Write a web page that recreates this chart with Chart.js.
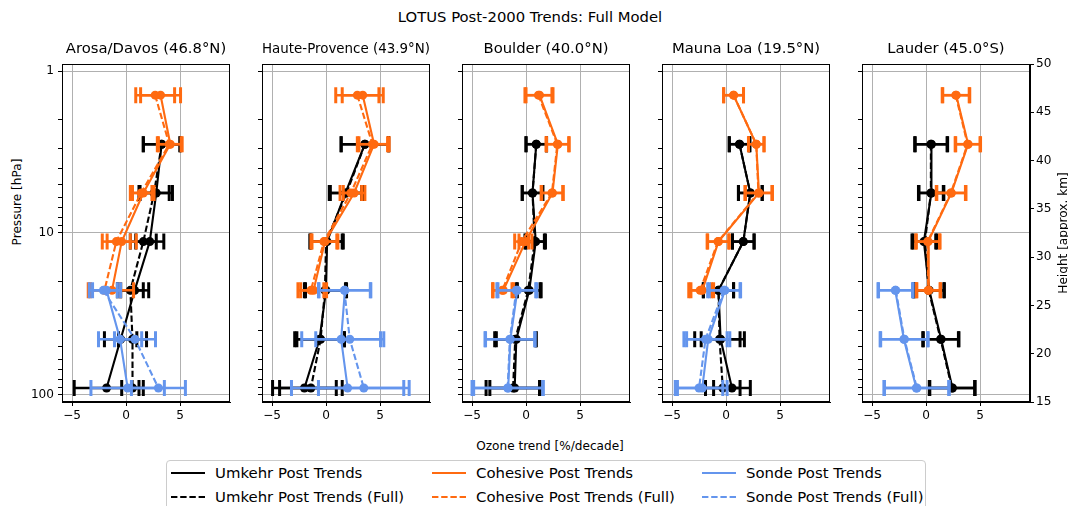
<!DOCTYPE html>
<html>
<head>
<meta charset="utf-8">
<script src="https://cdn.jsdelivr.net/npm/chart.js@4.4.0/dist/chart.umd.min.js"></script>
<style>
  body { margin: 0; background: #fff; width: 1068px; height: 506px; overflow: hidden; position: relative; font-family: 'DejaVu Sans', sans-serif; color: #000; }
  canvas { position: absolute; left: 0; top: 0; }
  .lbl { position: absolute; white-space: nowrap; line-height: 1; transform: translate(-50%, -50%); }
  #legend { position: absolute; left: 166px; top: 460px; width: 758px; height: 60px; border: 1px solid #cccccc; border-radius: 4px; background: #fff; }
  #legend .item { position: absolute; display: flex; align-items: center; font-size: 14.9px; white-space: nowrap; }
  #legend svg { margin-right: 10px; }
</style>
</head>
<body>
<div class="lbl" style="left:530px; top:17px; font-size:14.8px;">LOTUS Post-2000 Trends: Full Model</div>
<div class="lbl" style="left:550px; top:446px; font-size:12.1px;">Ozone trend [%/decade]</div>
<div class="lbl" style="left:17px; top:202px; font-size:12.1px; transform: translate(-50%, -50%) rotate(-90deg);">Pressure [hPa]</div>
<div id="legend"></div>

<script>
const stations = ['Arosa/Davos (46.8°N)', 'Haute-Provence (43.9°N)', 'Boulder (40.0°N)', 'Mauna Loa (19.5°N)', 'Lauder (45.0°S)'];
const pressure = [1.41, 2.83, 5.66, 11.3, 22.6, 45.3, 90.5];
const xTicks = [-5, 0, 5];
const pMajor = [1, 10, 100];
const pMinor = [2, 3, 4, 5, 6, 7, 8, 9, 20, 30, 40, 50, 60, 70, 80, 90];
const heightTicks = [15, 20, 25, 30, 35, 40, 45, 50];

// trends [%/decade], one row per station, one column per pressure level
const umkehr = [
  [null, 3.3, 2.8, 2.2, 0.8, -0.5, -1.8],
  [null, 3.6, 1.8, 0.1, 0.0, -0.6, -2.0],
  [null, 0.95, 0.6, 0.9, 0.3, -0.9, -1.05],
  [null, 1.25, 2.25, 1.6, -0.7, -0.5, 0.55],
  [null, 0.5, 0.5, -0.2, 0.3, 1.4, 2.45],
];
const umkehrErr = [
  [null, 1.7, 1.5, 1.3, 1.3, 1.5, 3.0],
  [null, 2.2, 1.5, 1.5, 1.9, 2.3, 2.95],
  [null, 0.95, 0.95, 0.9, 1.1, 1.85, 2.3],
  [null, 0.95, 1.1, 1.0, 1.4, 1.8, 1.7],
  [null, 1.5, 1.15, 1.1, 1.4, 1.65, 2.1],
];
const umkehrFull = [
  [null, 3.3, 2.6, 1.6, 0.4, 0.6, 0.6],
  [null, 3.6, 1.9, 0.0, -0.1, -0.5, -1.4],
  [null, 0.95, 0.6, 0.8, 0.2, -1.0, -1.2],
  [null, 1.25, 2.25, 1.6, -0.7, -0.6, -0.3],
  [null, 0.45, 0.45, -0.1, 0.25, 1.35, 2.4],
];
const umkehrFullErr = [
  [null, 1.7, 1.4, 1.2, 1.2, 1.3, 1.0],
  [null, 2.2, 1.5, 1.5, 1.9, 2.2, 2.9],
  [null, 0.95, 0.95, 0.9, 1.1, 1.9, 2.5],
  [null, 0.95, 1.1, 1.0, 1.4, 2.3, 1.6],
  [null, 1.5, 1.15, 1.1, 1.4, 1.65, 2.1],
];
const cohesive = [
  [3.2, 4.1, 1.6, -0.4, -1.3, null, null],
  [3.4, 4.45, 2.6, -0.1, -1.15, null, null],
  [1.25, 2.95, 2.45, -0.05, -2.1, null, null],
  [0.7, 2.8, 3.05, -0.7, -2.2, null, null],
  [2.8, 3.9, 2.35, 0.2, 0.25, null, null],
];
const cohesiveErr = [
  [1.85, 1.1, 1.0, 1.35, 2.0, null, null],
  [1.9, 1.4, 1.0, 1.2, 1.2, null, null],
  [1.25, 1.05, 1.0, 0.6, 0.95, null, null],
  [0.92, 0.72, 1.25, 1.0, 1.05, null, null],
  [1.25, 1.15, 1.35, 1.1, 1.1, null, null],
];
const cohesiveFull = [
  [2.7, 4.0, 1.4, -0.9, -2.0, null, null],
  [2.9, 4.3, 2.3, -0.2, -1.4, null, null],
  [1.15, 2.9, 2.4, -0.4, -2.2, null, null],
  [0.7, 2.8, 3.0, -0.75, -2.4, null, null],
  [2.75, 3.85, 2.3, 0.15, 0.2, null, null],
];
const cohesiveFullErr = [
  [1.8, 1.1, 1.0, 1.3, 1.5, null, null],
  [2.0, 1.4, 1.0, 1.2, 1.2, null, null],
  [1.25, 1.05, 1.0, 0.65, 0.9, null, null],
  [0.92, 0.72, 1.25, 1.0, 1.05, null, null],
  [1.25, 1.15, 1.35, 1.1, 1.1, null, null],
];
const sonde = [
  [null, null, null, null, -1.8, -0.55, 0.15],
  [null, null, null, null, 1.75, 1.4, 2.0],
  [null, null, null, null, -0.8, -1.45, -1.65],
  [null, null, null, null, -0.1, -1.65, -2.2],
  [null, null, null, null, -2.85, -2.05, -0.9],
];
const sondeErr = [
  [null, null, null, null, 1.3, 2.0, 3.4],
  [null, null, null, null, 2.4, 3.65, 5.2],
  [null, null, null, null, 1.8, 2.3, 3.2],
  [null, null, null, null, 1.45, 2.0, 2.3],
  [null, null, null, null, 1.6, 2.2, 3.0],
];
const sondeFull = [
  [null, null, null, null, -2.1, 0.83, 3.0],
  [null, null, null, null, 1.7, 2.2, 3.5],
  [null, null, null, null, -0.9, -1.5, -1.7],
  [null, null, null, null, -0.2, -1.9, -2.5],
  [null, null, null, null, -2.8, -2.0, -0.85],
];
const sondeFullErr = [
  [null, null, null, null, 1.3, 1.9, 2.5],
  [null, null, null, null, 2.4, 3.15, 4.2],
  [null, null, null, null, 1.8, 2.3, 3.3],
  [null, null, null, null, 1.5, 2.0, 2.2],
  [null, null, null, null, 1.6, 2.2, 3.0],
];

const BLACK = '#000000';
const ORANGE = '#ff6a10';
const BLUE = '#6495ed';
const DASH = [6.4, 2.8];

const series = [
  { name: 'Umkehr Post Trends', vals: umkehr, err: umkehrErr, color: BLACK, dash: [] },
  { name: 'Umkehr Post Trends (Full)', vals: umkehrFull, err: umkehrFullErr, color: BLACK, dash: DASH },
  { name: 'Cohesive Post Trends', vals: cohesive, err: cohesiveErr, color: ORANGE, dash: [] },
  { name: 'Cohesive Post Trends (Full)', vals: cohesiveFull, err: cohesiveFullErr, color: ORANGE, dash: DASH },
  { name: 'Sonde Post Trends', vals: sonde, err: sondeErr, color: BLUE, dash: [] },
  { name: 'Sonde Post Trends (Full)', vals: sondeFull, err: sondeFullErr, color: BLUE, dash: DASH },
];

Chart.defaults.font.family = "'DejaVu Sans', sans-serif";
Chart.defaults.color = '#000';

const TICK_FONT = 12.1;
const TITLE_FONT = 14.8;
const minus = (v) => String(v).replace('-', '\u2212');

// horizontal error bars with caps, drawn under each dataset's line
const errorBars = {
  id: 'errorBars',
  beforeDatasetDraw(chart, args) {
    const ds = chart.data.datasets[args.index];
    if (!ds.xErr) return;
    const xs = chart.scales.x;
    const ctx = chart.ctx;
    ctx.save();
    ctx.strokeStyle = ds.borderColor;
    args.meta.data.forEach((pt, j) => {
      const d = ds.data[j];
      const x0 = xs.getPixelForValue(d.x - ds.xErr[j]);
      const x1 = xs.getPixelForValue(d.x + ds.xErr[j]);
      ctx.lineWidth = 2.5;
      ctx.beginPath();
      ctx.moveTo(x0, pt.y);
      ctx.lineTo(x1, pt.y);
      ctx.stroke();
      ctx.lineWidth = 3;
      ctx.beginPath();
      ctx.moveTo(x0, pt.y - 8);
      ctx.lineTo(x0, pt.y + 8);
      ctx.moveTo(x1, pt.y - 8);
      ctx.lineTo(x1, pt.y + 8);
      ctx.stroke();
    });
    ctx.restore();
  },
};

// box round the plot area, plus the rotated label of the height axis
const frame = {
  id: 'frame',
  afterDraw(chart) {
    const { left, top, right, bottom } = chart.chartArea;
    const ctx = chart.ctx;
    ctx.save();
    ctx.strokeStyle = '#000';
    ctx.lineWidth = 1;
    ctx.strokeRect(Math.round(left) + 0.5, Math.round(top) + 0.5, Math.round(right - left) - 1, Math.round(bottom - top) - 1);
    if (chart.options.plugins.frame.heightLabel) {
      ctx.translate(1064, (top + bottom) / 2);
      ctx.rotate(-Math.PI / 2);
      ctx.fillStyle = '#000';
      ctx.font = TICK_FONT + "px 'DejaVu Sans'";
      ctx.textAlign = 'center';
      ctx.textBaseline = 'middle';
      ctx.fillText('Height [approx. km]', 0, 0);
    }
    ctx.restore();
  },
};

const W = 1068, H = 506;
const plotTop = 64, plotBottom = 402, plotW = 168;

stations.forEach((station, i) => {
  const canvas = document.createElement('canvas');
  canvas.width = W;
  canvas.height = H;
  document.body.appendChild(canvas);

  const plotLeft = 62 + 200 * i;
  const yw = i === 0 ? 57 : 20;
  const last = i === stations.length - 1;

  const datasets = series.map((s, k) => {
    const data = [];
    const xErr = [];
    pressure.forEach((p, lev) => {
      if (s.vals[i][lev] === null) return;
      data.push({ x: s.vals[i][lev], y: p });
      xErr.push(s.err[i][lev]);
    });
    return {
      label: s.name,
      data,
      xErr,
      borderColor: s.color,
      backgroundColor: s.color,
      borderWidth: 2.1,
      borderDash: s.dash,
      pointRadius: 4.5,
      pointBorderWidth: 0,
      pointBackgroundColor: s.color,
      tension: 0,
      order: series.length - k,
      yAxisID: 'y',
    };
  });

  const scales = {
    x: {
      type: 'linear',
      min: -5.93,
      max: 9.63,
      afterBuildTicks: (s) => { s.ticks = xTicks.map((v) => ({ value: v })); },
      afterFit: (s) => { s.height = 30; },
      ticks: { callback: (v) => minus(v), padding: 3, font: { size: TICK_FONT }, maxRotation: 0, autoSkip: false },
      grid: { color: '#b0b0b0', lineWidth: 1, tickColor: '#000', tickLength: 4 },
      border: { color: '#000', width: 1 },
    },
    y: {
      type: 'logarithmic',
      position: 'left',
      reverse: true,
      min: 0.905,
      max: 110.5,
      afterBuildTicks: (s) => {
        s.ticks = pMajor.concat(pMinor).sort((a, b) => a - b).map((v) => ({ value: v }));
      },
      afterFit: (s) => { s.width = yw; },
      ticks: {
        display: i === 0,
        autoSkip: false,
        padding: 4,
        font: { size: TICK_FONT },
        callback: (v) => (pMajor.includes(v) ? String(v) : ''),
      },
      grid: {
        color: (c) => (c.tick && pMajor.includes(c.tick.value) ? '#b0b0b0' : 'rgba(0,0,0,0)'),
        lineWidth: 1,
        tickColor: '#000',
        tickLength: 4,
      },
      border: { color: '#000', width: 1 },
    },
  };
  if (last) {
    scales.y2 = {
      type: 'linear',
      position: 'right',
      min: 15,
      max: 50,
      afterBuildTicks: (s) => { s.ticks = heightTicks.map((v) => ({ value: v })); },
      afterFit: (s) => { s.width = W - (plotLeft + plotW); },
      ticks: { padding: 2, font: { size: TICK_FONT }, autoSkip: false },
      grid: { drawOnChartArea: false, tickColor: '#000', tickLength: 4 },
      border: { color: '#000', width: 1 },
    };
  }

  new Chart(canvas, {
    type: 'line',
    data: { datasets },
    options: {
      responsive: false,
      animation: false,
      devicePixelRatio: 1,
      events: [],
      layout: {
        padding: {
          left: plotLeft - yw,
          right: last ? 0 : W - (plotLeft + plotW),
          top: plotTop - (TITLE_FONT * 1.2 + 6),
          bottom: H - plotBottom - 30,
        },
      },
      scales,
      plugins: {
        legend: { display: false },
        tooltip: { enabled: false },
        title: {
          display: true,
          text: station,
          fullSize: false,
          font: { size: TITLE_FONT, weight: 'normal' },
          color: '#000',
          padding: { top: 0, bottom: 6 },
        },
        frame: { heightLabel: last },
      },
    },
    plugins: [errorBars, frame],
  });
});

// legend in three columns, filled column by column as matplotlib does
const legend = document.getElementById('legend');
const colX = [4, 265, 535];
const rowY = [12, 36];
series.forEach((s, k) => {
  const col = Math.floor(k / 2);
  const row = k % 2;
  const item = document.createElement('div');
  item.className = 'item';
  item.style.left = colX[col] + 'px';
  item.style.top = (rowY[row] - 9) + 'px';
  item.style.height = '18px';
  const dash = s.dash.length ? `stroke-dasharray="${s.dash.join(' ')}"` : '';
  item.innerHTML = `<svg width="34" height="6"><line x1="0" y1="3" x2="34" y2="3" stroke="${s.color}" stroke-width="2" ${dash}/></svg><span>${s.name}</span>`;
  legend.appendChild(item);
});
</script>
</body>
</html>
